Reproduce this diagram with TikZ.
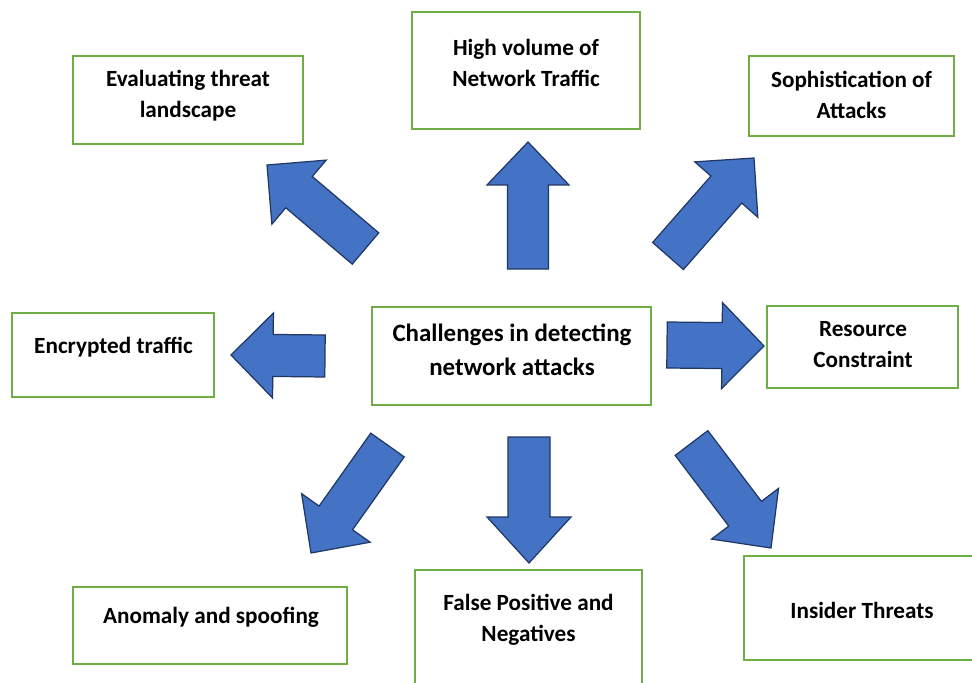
\documentclass[tikz,border=0pt]{standalone}
\usepackage{fontspec}
\setmainfont{Carlito}
\usetikzlibrary{calc}

\definecolor{boxgreen}{HTML}{70AD47}
\definecolor{arrowfill}{HTML}{4472C4}
\definecolor{arrowline}{HTML}{1F3864}

\tikzset{
  box/.style={draw=boxgreen, line width=1.1pt, fill=white, inner sep=0pt},
  lbl/.style={font=\bfseries\fontsize{13.2pt}{17.6pt}\selectfont, align=center, inner sep=0pt},
  mainlbl/.style={font=\bfseries\fontsize{14.2pt}{19.4pt}\selectfont, align=center, inner sep=0pt},
  arrowshape/.style={fill=arrowfill, draw=arrowline, line width=0.7pt, line join=miter},
}

% block arrow from base centre #1 to tip #2;
% #3 = half shaft width, #4 = half head width, #5 = head length
\newcommand\BlockArrow[5]{%
  \coordinate (ba-n) at ($(#2)!#5!(#1)$);
  \draw[arrowshape]
    ($(#1)!#3!90:(#2)$) -- ($(ba-n)!#3!-90:(#1)$) -- ($(ba-n)!#4!-90:(#1)$)
    -- (#2) -- ($(ba-n)!#4!90:(#1)$) -- ($(ba-n)!#3!90:(#1)$)
    -- ($(#1)!#3!-90:(#2)$) -- cycle;
}

\begin{document}
\begin{tikzpicture}[x=0.02cm, y=-0.02cm]
  \useasboundingbox (0,0) rectangle (972,682);
  \clip (0,0) rectangle (972,682);

  % outer boxes
  \node[box, minimum width=279*0.02cm, minimum height=98*0.02cm] (core) at (511.5,356) {};
  \node[box, minimum width=230*0.02cm, minimum height=88*0.02cm] (eval) at (188,100) {};
  \node[box, minimum width=228*0.02cm, minimum height=117*0.02cm] (volume) at (526,70.5) {};
  \node[box, minimum width=205*0.02cm, minimum height=80*0.02cm] (soph) at (851.5,96) {};
  \node[box, minimum width=202*0.02cm, minimum height=84*0.02cm] (encr) at (113,355) {};
  \node[box, minimum width=191*0.02cm, minimum height=82*0.02cm] (res) at (862.5,347) {};
  \node[box, minimum width=274*0.02cm, minimum height=77*0.02cm] (anom) at (210,625.5) {};
  \node[box, minimum width=227*0.02cm, minimum height=130*0.02cm] (fpn) at (528.5,635) {};
  \node[box, minimum width=234*0.02cm, minimum height=104*0.02cm] (ins) at (861,608) {};

  % labels
  \node[mainlbl] (core-t) at (512,350) {Challenges in detecting\\network attacks};
  \node[lbl] (eval-t) at (188,96) {Evaluating threat\\landscape};
  \node[lbl] (volume-t) at (526,62.5) {High volume of\\Network Traffic};
  \node[lbl] (soph-t) at (851.5,94.5) {Sophistication of\\Attacks};
  \node[lbl] (encr-t) at (113.5,347) {Encrypted traffic};
  \node[lbl] (res-t) at (863,345) {Resource\\Constraint};
  \node[lbl] (anom-t) at (211,617) {Anomaly and spoofing};
  \node[lbl] (fpn-t) at (528.5,619.5) {False Positive and\\Negatives};
  \node[lbl] (ins-t) at (862,610) {Insider Threats};

  % arrow end points: base centre and tip
  \coordinate (ul-b) at (365.5,248.5); \coordinate (ul-t) at (267,165);
  \coordinate (up-b) at (528,269);     \coordinate (up-t) at (528,142);
  \coordinate (ur-b) at (668,256);     \coordinate (ur-t) at (754,158);
  \coordinate (lt-b) at (325,356);     \coordinate (lt-t) at (231,355);
  \coordinate (rt-b) at (667,345);     \coordinate (rt-t) at (764,346);
  \coordinate (ll-b) at (387.5,445);   \coordinate (ll-t) at (311,553);
  \coordinate (dn-b) at (529,437);     \coordinate (dn-t) at (529,563);
  \coordinate (lr-b) at (691.5,443);   \coordinate (lr-t) at (771,548);

  \BlockArrow{ul-b}{ul-t}{0.41cm}{0.84cm}{0.84cm}
  \BlockArrow{up-b}{up-t}{0.41cm}{0.82cm}{0.86cm}
  \BlockArrow{ur-b}{ur-t}{0.41cm}{0.84cm}{0.84cm}
  \BlockArrow{lt-b}{lt-t}{0.42cm}{0.85cm}{0.84cm}
  \BlockArrow{rt-b}{rt-t}{0.46cm}{0.86cm}{0.84cm}
  \BlockArrow{ll-b}{ll-t}{0.41cm}{0.84cm}{0.86cm}
  \BlockArrow{dn-b}{dn-t}{0.42cm}{0.84cm}{0.92cm}
  \BlockArrow{lr-b}{lr-t}{0.41cm}{0.84cm}{0.86cm}
\end{tikzpicture}
\end{document}
